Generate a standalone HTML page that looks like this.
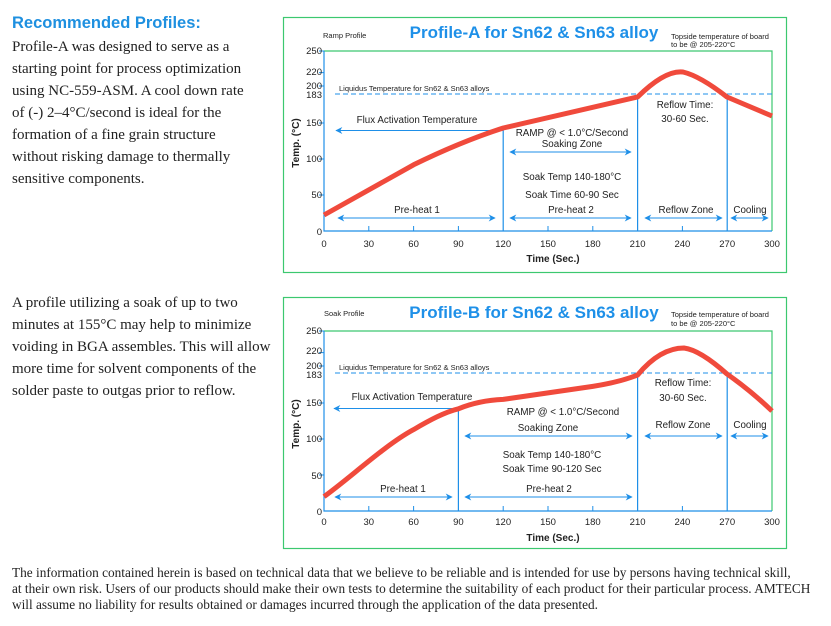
<!DOCTYPE html>
<html><head><meta charset="utf-8"><style>
body{margin:0;background:#fff;width:831px;height:626px;overflow:hidden}
svg{display:block}
.s{font-family:"Liberation Serif",serif;font-size:15px;fill:#222}
.a{font-family:"Liberation Sans",sans-serif;fill:#222}
</style></head><body>
<svg width="831" height="626" viewBox="0 0 831 626" xmlns="http://www.w3.org/2000/svg">
<text x="12" y="28" font-family="Liberation Sans,sans-serif" font-weight="bold" font-size="16.5" fill="#1e90e0">Recommended Profiles:</text>
<g class="s">
<text x="12" y="51">Profile-A was designed to serve as a</text>
<text x="12" y="73">starting point for process optimization</text>
<text x="12" y="95">using NC-559-ASM. A cool down rate</text>
<text x="12" y="117">of (-) 2–4°C/second is ideal for the</text>
<text x="12" y="139">formation of a fine grain structure</text>
<text x="12" y="161">without risking damage to thermally</text>
<text x="12" y="183">sensitive components.</text>
<text x="12" y="307">A profile utilizing a soak of up to two</text>
<text x="12" y="329">minutes at 155°C may help to minimize</text>
<text x="12" y="351">voiding in BGA assembles. This will allow</text>
<text x="12" y="373">more time for solvent components of the</text>
<text x="12" y="395">solder paste to outgas prior to reflow.</text>
</g>
<g font-family="Liberation Serif,serif" font-size="13.3" fill="#222">
<text x="12" y="577">The information contained herein is based on technical data that we believe to be reliable and is intended for use by persons having technical skill,</text>
<text x="12" y="593">at their own risk. Users of our products should make their own tests to determine the suitability of each product for their particular process. AMTECH</text>
<text x="12" y="609">will assume no liability for results obtained or damages incurred through the application of the data presented.</text>
</g>
<defs>
<marker id="ar" viewBox="0 0 10 10" refX="9" refY="5" markerWidth="9" markerHeight="7" orient="auto-start-reverse"><path d="M0,0L10,5L0,10L3,5z" fill="#1e8fe8"/></marker>
</defs>

<!-- Chart A -->
<g>
<rect x="283.5" y="17.5" width="503" height="255" fill="none" stroke="#3cc870" stroke-width="1.2"/>
<path d="M324,51H772V231" fill="none" stroke="#3cc870" stroke-width="1.2"/>
<path d="M324,51V231H772" fill="none" stroke="#1e8fe8" stroke-width="1.2"/>
<g stroke="#1e8fe8" stroke-width="1">
<path d="M319,51h5M319,72.6h5M319,86h5M319,123h5M319,159h5M319,195h5M368.8,226v5M413.6,226v5M458.4,226v5M548,226v5M592.8,226v5M682.4,226v5"/>
<path d="M503.2,128V231M637.6,97V231M727.2,96V231" stroke-width="1.2"/>
<path d="M335,94H772" stroke-dasharray="5,3"/>
<path d="M336,130.5H503" marker-start="url(#ar)"/>
<path d="M510,152H631" marker-start="url(#ar)" marker-end="url(#ar)"/>
<path d="M338,218H495" marker-start="url(#ar)" marker-end="url(#ar)"/>
<path d="M510,218H631" marker-start="url(#ar)" marker-end="url(#ar)"/>
<path d="M645,218H722" marker-start="url(#ar)" marker-end="url(#ar)"/>
<path d="M731,218H768" marker-start="url(#ar)" marker-end="url(#ar)"/>
</g>
<path d="M324,215L413.6,164.8Q460,142 503.2,128L637.6,97Q665,70 683,72Q700,76 727,97L772,116" fill="none" stroke="#f04a3c" stroke-width="5" stroke-linejoin="round"/>
<text x="534" y="38" text-anchor="middle" font-family="Liberation Sans,sans-serif" font-weight="bold" font-size="17" fill="#1e90e8">Profile-A for Sn62 &amp; Sn63 alloy</text>
<g class="a" font-size="7.5">
<text x="323" y="38">Ramp Profile</text>
<text x="671" y="39">Topside temperature of board</text>
<text x="671" y="47">to be @ 205-220°C</text>
<text x="339" y="91">Liquidus Temperature for Sn62 &amp; Sn63 alloys</text>
</g>
<g class="a" font-size="9.5" text-anchor="end">
<text x="322" y="54">250</text><text x="322" y="75">220</text><text x="322" y="89">200</text><text x="322" y="98">183</text>
<text x="322" y="126">150</text><text x="322" y="162">100</text><text x="322" y="198">50</text><text x="322" y="235">0</text>
</g>
<g class="a" font-size="9.5" text-anchor="middle">
<text x="324" y="247">0</text><text x="368.8" y="247">30</text><text x="413.6" y="247">60</text><text x="458.4" y="247">90</text><text x="503.2" y="247">120</text><text x="548" y="247">150</text><text x="592.8" y="247">180</text><text x="637.6" y="247">210</text><text x="682.4" y="247">240</text><text x="727.2" y="247">270</text><text x="772" y="247">300</text>
<text x="553" y="262" font-weight="bold" font-size="10">Time (Sec.)</text>
<text transform="translate(299,143) rotate(-90)" font-weight="bold" font-size="10">Temp. (°C)</text>
<text x="417" y="123" font-size="9.8">Flux Activation Temperature</text>
<text x="572" y="136" font-size="9.8">RAMP @ &lt; 1.0°C/Second</text>
<text x="572" y="147" font-size="9.8">Soaking Zone</text>
<text x="572" y="180" font-size="9.8">Soak Temp 140-180°C</text>
<text x="572" y="198" font-size="9.8">Soak Time 60-90 Sec</text>
<text x="417" y="213" font-size="9.8">Pre-heat 1</text>
<text x="571" y="213" font-size="9.8">Pre-heat 2</text>
<text x="686" y="213" font-size="9.8">Reflow Zone</text>
<text x="750" y="213" font-size="9.8">Cooling</text>
<text x="685" y="108" font-size="9.8">Reflow Time:</text>
<text x="685" y="122" font-size="9.8">30-60 Sec.</text>
</g>
</g>

<!-- Chart B -->
<g>
<rect x="283.5" y="297.5" width="503" height="251" fill="none" stroke="#3cc870" stroke-width="1.2"/>
<path d="M324,331H772V511" fill="none" stroke="#3cc870" stroke-width="1.2"/>
<path d="M324,331V511H772" fill="none" stroke="#1e8fe8" stroke-width="1.2"/>
<g stroke="#1e8fe8" stroke-width="1">
<path d="M319,331h5M319,352.6h5M319,366h5M319,403h5M319,439h5M319,475h5M368.8,506v5M413.6,506v5M503.2,506v5M548,506v5M592.8,506v5M682.4,506v5"/>
<path d="M458.4,409V511M637.6,376V511M727.2,374V511" stroke-width="1.2"/>
<path d="M335,373H772" stroke-dasharray="5,3"/>
<path d="M334,408.5H458" marker-start="url(#ar)"/>
<path d="M465,436H632" marker-start="url(#ar)" marker-end="url(#ar)"/>
<path d="M335,497H452" marker-start="url(#ar)" marker-end="url(#ar)"/>
<path d="M465,497H632" marker-start="url(#ar)" marker-end="url(#ar)"/>
<path d="M645,436H722" marker-start="url(#ar)" marker-end="url(#ar)"/>
<path d="M731,436H768" marker-start="url(#ar)" marker-end="url(#ar)"/>
</g>
<path d="M324,496.6C350,478 385,445 413.6,429.6C430,420 445,412 458.4,408.8C475,402 490,400 503.2,399.4L548,392.9L592.8,386.4Q620,382 637.6,375Q660,348 684,348Q700,350 727,374Q750,390 772,411" fill="none" stroke="#f04a3c" stroke-width="5" stroke-linejoin="round"/>
<text x="534" y="318" text-anchor="middle" font-family="Liberation Sans,sans-serif" font-weight="bold" font-size="17" fill="#1e90e8">Profile-B for Sn62 &amp; Sn63 alloy</text>
<g class="a" font-size="7.5">
<text x="324" y="316">Soak Profile</text>
<text x="671" y="317">Topside temperature of board</text>
<text x="671" y="326">to be @ 205-220°C</text>
<text x="339" y="370">Liquidus Temperature for Sn62 &amp; Sn63 alloys</text>
</g>
<g class="a" font-size="9.5" text-anchor="end">
<text x="322" y="334">250</text><text x="322" y="354">220</text><text x="322" y="369">200</text><text x="322" y="378">183</text>
<text x="322" y="406">150</text><text x="322" y="442">100</text><text x="322" y="479">50</text><text x="322" y="515">0</text>
</g>
<g class="a" font-size="9.5" text-anchor="middle">
<text x="324" y="525">0</text><text x="368.8" y="525">30</text><text x="413.6" y="525">60</text><text x="458.4" y="525">90</text><text x="503.2" y="525">120</text><text x="548" y="525">150</text><text x="592.8" y="525">180</text><text x="637.6" y="525">210</text><text x="682.4" y="525">240</text><text x="727.2" y="525">270</text><text x="772" y="525">300</text>
<text x="553" y="541" font-weight="bold" font-size="10">Time (Sec.)</text>
<text transform="translate(299,424) rotate(-90)" font-weight="bold" font-size="10">Temp. (°C)</text>
<text x="412" y="400" font-size="9.8">Flux Activation Temperature</text>
<text x="563" y="415" font-size="9.8">RAMP @ &lt; 1.0°C/Second</text>
<text x="548" y="431" font-size="9.8">Soaking Zone</text>
<text x="552" y="458" font-size="9.8">Soak Temp 140-180°C</text>
<text x="552" y="472" font-size="9.8">Soak Time 90-120 Sec</text>
<text x="403" y="492" font-size="9.8">Pre-heat 1</text>
<text x="549" y="492" font-size="9.8">Pre-heat 2</text>
<text x="683" y="428" font-size="9.8">Reflow Zone</text>
<text x="750" y="428" font-size="9.8">Cooling</text>
<text x="683" y="386" font-size="9.8">Reflow Time:</text>
<text x="683" y="401" font-size="9.8">30-60 Sec.</text>
</g>
</g>
</svg>
</body></html>
